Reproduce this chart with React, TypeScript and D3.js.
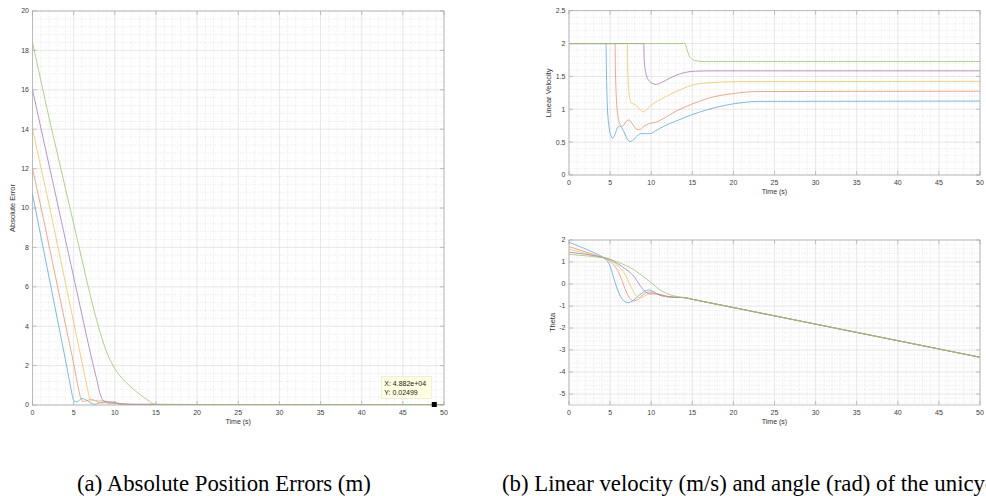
import React from 'react';
import * as d3 from 'd3';

type P = [number, number];

// ---------- (a) Absolute position error ----------
const errBlue: P[] = [[0,10.7],[1,8.6],[2,6.5],[3,4.4],[4,2.3],[4.6,1.0],[5,0.24],[5.4,0.16],[6,0.33],[6.6,0.24],[7.3,0.06],[7.7,0.04],[8.2,0.14],[8.7,0.15],[9.5,0.07],[10.3,0.1],[11,0.04],[12,0.025],[20,0.025],[50,0.025]];
const errOrange: P[] = [[0,12],[1,10.1],[2,8.1],[3,6.1],[4,4.1],[5,2.1],[5.6,0.8],[5.9,0.3],[6.2,0.18],[6.8,0.25],[7.3,0.27],[7.8,0.18],[8.3,0.1],[9,0.12],[9.8,0.12],[10.5,0.05],[12,0.03],[20,0.025],[50,0.025]];
const errYellow: P[] = [[0,14],[1,12.1],[2,10.2],[3,8.2],[4,6.2],[5,4.2],[6,2.2],[6.6,1.0],[7,0.3],[7.3,0.22],[8,0.24],[8.6,0.22],[9.2,0.1],[10,0.08],[11,0.05],[13,0.03],[20,0.025],[50,0.025]];
const errPurple: P[] = [[0,16],[1,14.1],[2,12.2],[3,10.3],[4,8.4],[5,6.5],[6,4.6],[7,2.7],[7.8,1.3],[8.3,0.45],[8.7,0.2],[9.4,0.16],[10,0.14],[10.5,0.06],[12,0.04],[20,0.025],[50,0.025]];
const errGreen: P[] = [[0,18.4],[1,16.5],[2,14.6],[3,12.8],[4,11],[5,9.2],[6,7.4],[7,5.6],[8,4.0],[9,2.7],[10,1.85],[11,1.3],[12,0.9],[13,0.55],[14,0.25],[14.7,0.05],[15,0.025],[50,0.025]];

// ---------- (b) Linear velocity ----------
const velBlue: P[] = [[0,2],[4.5,2],[4.55,1.6],[4.65,1.1],[4.85,0.75],[5.1,0.6],[5.3,0.56],[5.6,0.62],[5.9,0.72],[6.2,0.745],[6.6,0.68],[7.0,0.57],[7.4,0.51],[7.7,0.52],[8.2,0.58],[8.7,0.63],[9.4,0.63],[9.9,0.63],[10.5,0.67],[11.5,0.74],[13,0.82],[15,0.92],[17,1.0],[19,1.06],[21,1.1],[23,1.12],[50,1.125]];
const velOrange: P[] = [[0,2],[5.6,2],[5.65,1.6],[5.75,1.2],[5.95,0.9],[6.2,0.77],[6.5,0.74],[7.0,0.82],[7.3,0.84],[7.7,0.78],[8.2,0.7],[8.6,0.69],[9.1,0.74],[9.7,0.78],[10.5,0.8],[11.5,0.86],[13,0.97],[15,1.08],[17,1.17],[20,1.24],[23,1.27],[50,1.275]];
const velYellow: P[] = [[0,2],[7.1,2],[7.15,1.6],[7.3,1.25],[7.6,1.09],[8.1,1.07],[8.6,1.0],[9.1,0.96],[9.5,1.0],[9.9,1.05],[11.3,1.16],[13.4,1.29],[15.4,1.38],[17.9,1.41],[20,1.42],[50,1.425]];
const velPurple: P[] = [[0,2],[9.1,2],[9.15,1.75],[9.35,1.55],[9.7,1.44],[10.2,1.39],[10.6,1.378],[11.3,1.41],[12.2,1.47],[13.8,1.55],[15.4,1.58],[17,1.585],[50,1.585]];
const velGreen: P[] = [[0,2],[14.1,2],[14.3,1.93],[14.6,1.82],[15,1.76],[15.6,1.735],[16.5,1.728],[50,1.728]];

// ---------- (b) Theta ----------
const thBlue: P[] = [[0,1.9],[1,1.75],[2,1.6],[3,1.43],[4,1.25],[4.5,1.12],[5,0.82],[5.5,0.2],[6,-0.35],[6.5,-0.7],[7.2,-0.85],[7.8,-0.75],[8.5,-0.52],[9.2,-0.33],[9.7,-0.27],[10.3,-0.35],[11,-0.5],[12,-0.58],[13,-0.6],[14,-0.62],[15,-0.695],[50,-3.33]];
const thOrange: P[] = [[0,1.7],[1,1.58],[2,1.46],[3,1.34],[4,1.22],[5,1.02],[5.6,0.8],[6.2,0.4],[6.8,-0.2],[7.3,-0.6],[7.8,-0.77],[8.3,-0.72],[9,-0.5],[9.6,-0.37],[10.2,-0.36],[11,-0.5],[12,-0.58],[13,-0.61],[14,-0.62],[15,-0.695],[50,-3.33]];
const thYellow: P[] = [[0,1.58],[1,1.49],[2,1.4],[3,1.31],[4,1.22],[5,1.08],[6,0.8],[6.8,0.45],[7.5,-0.1],[8,-0.45],[8.6,-0.62],[9.2,-0.55],[10,-0.4],[10.8,-0.45],[11.8,-0.57],[13,-0.61],[14,-0.62],[15,-0.695],[50,-3.33]];
const thPurple: P[] = [[0,1.45],[1,1.4],[2,1.35],[3,1.29],[4,1.22],[5,1.12],[6,0.9],[7,0.65],[8,0.3],[8.7,-0.1],[9.3,-0.35],[9.8,-0.45],[10.5,-0.45],[11.3,-0.5],[12.2,-0.58],[13.2,-0.61],[14,-0.62],[15,-0.695],[50,-3.33]];
const thGreen: P[] = [[0,1.35],[2,1.28],[4,1.2],[5,1.12],[6,0.98],[7,0.83],[8,0.62],[9,0.35],[10,0.06],[11,-0.25],[12,-0.45],[13,-0.56],[14,-0.62],[15,-0.695],[50,-3.33]];

const seriesColors = ['#5aa9d8', '#e8936b', '#f0c555', '#a57bba', '#9cc46c'];

const xTicks = [0, 5, 10, 15, 20, 25, 30, 35, 40, 45, 50];
const yTicksA = [0, 2, 4, 6, 8, 10, 12, 14, 16, 18, 20];
const yTicksVel = [0, 0.5, 1, 1.5, 2, 2.5];
const yTicksTheta = [-5, -4, -3, -2, -1, 0, 1, 2];

const tipX = 48.82;
const tipY = 0.02499;
const tipLines = ['X: 4.882e+04', 'Y: 0.02499'];

const captionA = '(a) Absolute Position Errors (m)';
const captionB = '(b) Linear velocity (m/s) and angle (rad) of the unicycle robots';

interface Cfg {
  x0: number; x1: number; y0: number; y1: number;
  yDomain: [number, number];
  yTicks: number[];
  xMinor: number; yMinor: number;
  yLabel: string; yLabelX: number;
  series: P[][];
}

const FONT = 'Liberation Sans, Arial, Helvetica, sans-serif';

function range(a: number, b: number, step: number) {
  const out: number[] = [];
  const n = Math.round((b - a) / step);
  for (let i = 0; i <= n; i++) out.push(+(a + i * step).toFixed(6));
  return out;
}

function Panel({ cfg, children }: { cfg: Cfg; children?: any }) {
  const x = d3.scaleLinear().domain([0, 50]).range([cfg.x0, cfg.x1]);
  const y = d3.scaleLinear().domain(cfg.yDomain).range([cfg.y1, cfg.y0]);
  const line = d3.line<P>().x(d => x(d[0])).y(d => y(d[1])).curve(d3.curveMonotoneX);
  const minorX = range(0, 50, cfg.xMinor);
  const ystart = Math.ceil(cfg.yDomain[0] / cfg.yMinor - 1e-9) * cfg.yMinor;
  const minorY = range(ystart, cfg.yDomain[1], cfg.yMinor);
  const tl = 4;
  const axisCol = '#a8a8a8';
  const cx = (cfg.x0 + cfg.x1) / 2;
  const cy = (cfg.y0 + cfg.y1) / 2;
  return (
    <g>
      <rect x={cfg.x0} y={cfg.y0} width={cfg.x1 - cfg.x0} height={cfg.y1 - cfg.y0} fill="#fff" />
      {minorX.map((v, i) => (
        <line key={'mx' + i} x1={x(v)} x2={x(v)} y1={cfg.y0} y2={cfg.y1} stroke="#d4d4d4" strokeWidth={0.5} strokeDasharray="1,1.5" />
      ))}
      {minorY.map((v, i) => (
        <line key={'my' + i} y1={y(v)} y2={y(v)} x1={cfg.x0} x2={cfg.x1} stroke="#d4d4d4" strokeWidth={0.5} strokeDasharray="1,1.5" />
      ))}
      {xTicks.map((v, i) => (
        <line key={'gx' + i} x1={x(v)} x2={x(v)} y1={cfg.y0} y2={cfg.y1} stroke="#e2e2e2" strokeWidth={0.7} />
      ))}
      {cfg.yTicks.map((v, i) => (
        <line key={'gy' + i} y1={y(v)} y2={y(v)} x1={cfg.x0} x2={cfg.x1} stroke="#e2e2e2" strokeWidth={0.7} />
      ))}
      <g>
        {cfg.series.map((s, i) => (
          <path key={'s' + i} d={line(s) || ''} fill="none" stroke={seriesColors[i]} strokeWidth={0.8} />
        ))}
      </g>
      <rect x={cfg.x0} y={cfg.y0} width={cfg.x1 - cfg.x0} height={cfg.y1 - cfg.y0} fill="none" stroke={axisCol} strokeWidth={0.7} />
      {xTicks.map((v, i) => (
        <g key={'tx' + i}>
          <line x1={x(v)} x2={x(v)} y1={cfg.y1} y2={cfg.y1 - tl} stroke={axisCol} strokeWidth={0.7} />
          <line x1={x(v)} x2={x(v)} y1={cfg.y0} y2={cfg.y0 + tl} stroke={axisCol} strokeWidth={0.7} />
          <text x={x(v)} y={cfg.y1 + 10} textAnchor="middle" fontSize={7} fill="#404040" fontFamily={FONT}>{v}</text>
        </g>
      ))}
      {cfg.yTicks.map((v, i) => (
        <g key={'ty' + i}>
          <line y1={y(v)} y2={y(v)} x1={cfg.x0} x2={cfg.x0 + tl} stroke={axisCol} strokeWidth={0.7} />
          <line y1={y(v)} y2={y(v)} x1={cfg.x1} x2={cfg.x1 - tl} stroke={axisCol} strokeWidth={0.7} />
          <text x={cfg.x0 - 3.5} y={y(v)} dy="0.35em" textAnchor="end" fontSize={7} fill="#404040" fontFamily={FONT}>{v}</text>
        </g>
      ))}
      <text x={cx} y={cfg.y1 + 19} textAnchor="middle" fontSize={7} fill="#333" fontFamily={FONT}>Time (s)</text>
      <text transform={`translate(${cfg.yLabelX},${cy}) rotate(-90)`} textAnchor="middle" fontSize={7.5} fill="#333" fontFamily={FONT}>{cfg.yLabel}</text>
      {children ? children(x, y) : null}
    </g>
  );
}

const cfgA: Cfg = {
  x0: 32.5, x1: 444, y0: 11, y1: 405,
  yDomain: [0, 20], yTicks: yTicksA, xMinor: 1, yMinor: 0.4,
  yLabel: 'Absolute Error', yLabelX: 15,
  series: [errBlue, errOrange, errYellow, errPurple, errGreen],
};
const cfgVel: Cfg = {
  x0: 569, x1: 980, y0: 10.7, y1: 175,
  yDomain: [0, 2.5], yTicks: yTicksVel, xMinor: 1, yMinor: 0.1,
  yLabel: 'Linear Velocity', yLabelX: 551,
  series: [velBlue, velOrange, velYellow, velPurple, velGreen],
};
const cfgTh: Cfg = {
  x0: 569, x1: 980, y0: 240, y1: 405,
  yDomain: [-5.5, 2], yTicks: yTicksTheta, xMinor: 1, yMinor: 0.2,
  yLabel: 'Theta', yLabelX: 555,
  series: [thBlue, thOrange, thYellow, thPurple, thGreen],
};

export default function App() {
  return (
    <svg width={986} height={496} style={{ position: 'fixed', left: 0, top: 0, background: '#fff' }}>
      <rect x={0} y={0} width={986} height={496} fill="#fff" />
      <Panel cfg={cfgA}>
        {(x: any, y: any) => {
          const px = x(tipX), py = y(tipY);
          return (
            <g>
              <rect x={px - 53} y={py - 28} width={50} height={22} fill="#ffffe1" stroke="#e6e6c8" strokeWidth={0.6} />
              {tipLines.map((t, i) => (
                <text key={i} x={px - 50} y={py - 19 + i * 9} fontSize={7} fill="#222" fontFamily={FONT}>{t}</text>
              ))}
              <rect x={px - 2.5} y={py - 2.5} width={5} height={5} fill="#000" />
            </g>
          );
        }}
      </Panel>
      <Panel cfg={cfgVel} />
      <Panel cfg={cfgTh} />
      <text x={77} y={491} fontSize={22.8} fontFamily="Liberation Serif, Times New Roman, serif" fill="#000">{captionA}</text>
      <text x={502} y={491} fontSize={22.8} fontFamily="Liberation Serif, Times New Roman, serif" fill="#000">{captionB}</text>
    </svg>
  );
}
